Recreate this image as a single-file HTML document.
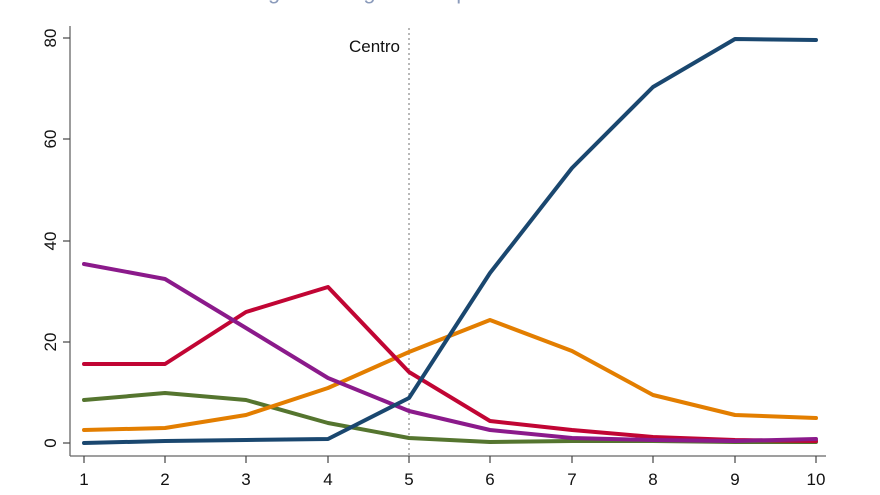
<!DOCTYPE html>
<html><head><style>body{margin:0;background:#fff}svg{display:block}</style></head><body>
<svg width="880" height="495" xmlns="http://www.w3.org/2000/svg" font-family="Liberation Sans, sans-serif">
<rect width="880" height="495" fill="#fff"/>
<text x="430" y="-1" font-size="22" fill="#1a3a7a" text-anchor="middle" opacity="0.5">Left-right ideological self-placement and vote</text>
<g stroke="#666" stroke-width="1.3" fill="none">
<line x1="70" y1="26" x2="70" y2="456"/>
<line x1="70" y1="456" x2="826" y2="456"/>
</g>
<g stroke="#444" stroke-width="1.2">
<line x1="63" y1="443" x2="70" y2="443"/><line x1="63" y1="342" x2="70" y2="342"/><line x1="63" y1="241" x2="70" y2="241"/><line x1="63" y1="139" x2="70" y2="139"/><line x1="63" y1="38" x2="70" y2="38"/>
</g>
<g font-size="17" fill="#111" text-anchor="middle">
<text transform="translate(56,443) rotate(-90)">0</text>
<text transform="translate(56,342) rotate(-90)">20</text>
<text transform="translate(56,241) rotate(-90)">40</text>
<text transform="translate(56,139) rotate(-90)">60</text>
<text transform="translate(56,38) rotate(-90)">80</text>
</g>
<g font-size="17" fill="#111" text-anchor="middle">
<text x="84" y="485">1</text><text x="165" y="485">2</text><text x="246" y="485">3</text><text x="328" y="485">4</text><text x="409" y="485">5</text><text x="490" y="485">6</text><text x="572" y="485">7</text><text x="653" y="485">8</text><text x="735" y="485">9</text><text x="816" y="485">10</text>
</g>
<g stroke="#444" stroke-width="1.2">
<line x1="84" y1="456" x2="84" y2="463"/><line x1="165" y1="456" x2="165" y2="463"/><line x1="246" y1="456" x2="246" y2="463"/><line x1="328" y1="456" x2="328" y2="463"/><line x1="409" y1="456" x2="409" y2="463"/><line x1="490" y1="456" x2="490" y2="463"/><line x1="572" y1="456" x2="572" y2="463"/><line x1="653" y1="456" x2="653" y2="463"/><line x1="735" y1="456" x2="735" y2="463"/><line x1="816" y1="456" x2="816" y2="463"/>
</g>
<line x1="409" y1="28" x2="409" y2="456" stroke="#888" stroke-width="1.2" stroke-dasharray="2,3"/>
<text x="400" y="52" font-size="17" fill="#111" text-anchor="end">Centro</text>
<g fill="none" stroke-width="4" stroke-linejoin="round" stroke-linecap="round">
<polyline stroke="#55752f" points="84,400 165,393 246,400 328,423 409,438 490,442 572,441 653,441 735,442 816,442"/>
<polyline stroke="#e37e00" points="84,430 165,428 246,415 328,388 409,352 490,320 572,351 653,395 735,415 816,418"/>
<polyline stroke="#c10534" points="84,364 165,364 246,312 328,287 409,372 490,421 572,430 653,437 735,440 816,441"/>
<polyline stroke="#8b1a8b" points="84,264 165,279 246,328 328,378 409,411 490,430 572,438 653,440 735,441 816,439"/>
<polyline stroke="#1a476f" points="84,443 165,441 246,440 328,439 409,398 490,273 572,168 653,87 735,39 816,40"/>
</g>
</svg>
</body></html>
